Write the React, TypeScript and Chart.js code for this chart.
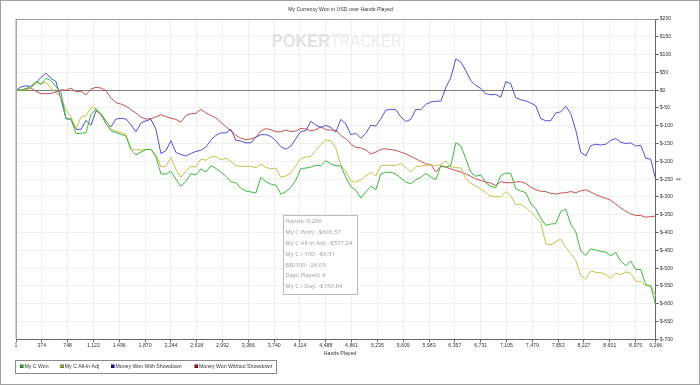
import React, { useEffect, useRef } from "react";
import { Chart, registerables } from "chart.js";
Chart.register(...registerables);

const hands = [
  1, 73, 146, 218, 291, 363, 435, 508, 580, 652,
  725, 797, 870, 942, 1014, 1087, 1159, 1232, 1304, 1376,
  1449, 1521, 1593, 1666, 1738, 1811, 1883, 1955, 2028, 2100,
  2172, 2245, 2317, 2390, 2462, 2534, 2607, 2679, 2752, 2824,
  2896, 2969, 3041, 3113, 3186, 3258, 3331, 3403, 3475, 3548,
  3620, 3693, 3765, 3837, 3910, 3982, 4054, 4127, 4199, 4272,
  4344, 4416, 4489, 4561, 4634, 4706, 4778, 4851, 4923, 4995,
  5068, 5140, 5213, 5285, 5357, 5430, 5502, 5575, 5647, 5719,
  5792, 5864, 5936, 6009, 6081, 6154, 6226, 6298, 6371, 6443,
  6515, 6588, 6660, 6733, 6805, 6877, 6950, 7022, 7095, 7167,
  7239, 7312, 7384, 7456, 7529, 7601, 7674, 7746, 7818, 7891,
  7963, 8036, 8108, 8180, 8253, 8325, 8397, 8470, 8542, 8615,
  8687, 8759, 8832, 8904, 8977, 9049, 9121, 9194, 9266,
];

const xTicks = [
  1, 374, 748, 1122, 1496, 1870, 2244, 2618, 2992, 3366, 3740, 4114, 4488,
  4861, 5235, 5609, 5983, 6357, 6731, 7105, 7479, 7853, 8227, 8601, 8975, 9266,
];

const seriesNames = [
  "My C Won",
  "My C All-In Adj",
  "Money Won With Showdown",
  "Money Won Without Showdown",
];

const myCWon = [
  0, -1, 5, 10, 25, 16, 33, 27, 10, -6,
  -81, -81, -122, -121, -120, -68, -53, -70, -94, -114,
  -119, -124, -129, -167, -182, -174, -167, -166, -188, -235,
  -236, -228, -250, -270, -256, -235, -238, -221, -230, -212,
  -220, -230, -242, -257, -260, -276, -283, -286, -289, -245,
  -257, -264, -267, -292, -285, -273, -253, -220, -219, -216,
  -211, -212, -198, -208, -212, -213, -245, -271, -281, -303,
  -286, -270, -280, -235, -231, -230, -236, -247, -258, -263,
  -252, -245, -234, -244, -252, -212, -216, -212, -148, -156,
  -192, -231, -242, -238, -260, -270, -274, -240, -233, -234,
  -277, -283, -288, -318, -333, -360, -380, -376, -375, -341,
  -334, -377, -398, -451, -464, -446, -449, -453, -455, -465,
  -456, -480, -493, -480, -504, -504, -546, -550, -603,
];

const myCAllInAdj = [
  0, 1, 1, 6, 21, 19, 22, 5, -7, -20,
  -56, -74, -109, -75, -72, -49, -52, -65, -85, -109,
  -115, -119, -125, -165, -168, -168, -167, -166, -181, -215,
  -214, -189, -222, -245, -227, -213, -216, -194, -197, -187,
  -187, -195, -191, -201, -212, -214, -214, -214, -218, -208,
  -217, -221, -219, -245, -241, -233, -212, -192, -188, -186,
  -169, -153, -140, -142, -163, -211, -228, -256, -259, -252,
  -241, -231, -241, -212, -211, -211, -212, -206, -217, -230,
  -215, -213, -211, -210, -213, -209, -199, -215, -218, -218,
  -248, -262, -269, -277, -288, -298, -299, -300, -285, -297,
  -321, -320, -330, -342, -357, -371, -432, -435, -426, -418,
  -442, -459, -478, -521, -531, -507, -512, -513, -517, -528,
  -514, -518, -511, -514, -537, -537, -550, -550, -577,
];

const wonWithShowdown = [
  0, 9, 12, 11, 20, 36, 48, 33, 24, -25,
  -79, -82, -110, -110, -85, -98, -58, -68, -88, -103,
  -81, -79, -81, -97, -117, -92, -86, -82, -110, -178,
  -170, -142, -175, -181, -185, -178, -172, -169, -160, -140,
  -127, -120, -120, -110, -141, -143, -148, -148, -132, -125,
  -125, -130, -142, -159, -166, -157, -136, -116, -114, -87,
  -98, -105, -99, -105, -118, -82, -95, -125, -121, -135,
  -121, -98, -101, -80, -56, -54, -55, -75, -88, -82,
  -54, -55, -40, -33, -31, -31, 7, 35, 88, 79,
  55, 27, 13, 5, -10, -13, -12, -20, 24, 18,
  -21, -27, -30, -36, -44, -80, -86, -86, -64, -61,
  -45, -66, -112, -174, -185, -156, -152, -154, -152, -141,
  -136, -146, -150, -148, -157, -155, -191, -194, -251,
];

const wonWithoutShowdown = [
  0, 1, 3, 6, -3, -10, -10, -9, -5, 1,
  0, 6, -5, -3, -13, 3, 8, 6, -1, -22,
  -35, -39, -45, -55, -64, -76, -81, -80, -75, -69,
  -74, -79, -82, -90, -71, -66, -65, -54, -64, -71,
  -78, -90, -103, -114, -127, -135, -139, -137, -132, -115,
  -108, -111, -117, -117, -112, -116, -115, -107, -109, -114,
  -111, -103, -111, -112, -113, -127, -137, -151, -161, -162,
  -168, -179, -174, -166, -165, -167, -169, -174, -179, -186,
  -193, -200, -207, -209, -230, -214, -216, -221, -226, -230,
  -235, -242, -249, -254, -258, -261, -268, -257, -260, -260,
  -258, -257, -262, -272, -280, -284, -285, -290, -292, -289,
  -288, -285, -288, -283, -280, -286, -294, -299, -304, -309,
  -320, -331, -340, -348, -352, -352, -357, -355, -354,
];

const tooltipLines = [
  "Hands: 9,266",
  "My C Won: -$603.37",
  "My C All-In Adj: -$577.24",
  "My C / 100: -$6.51",
  "BB/100: -26.05",
  "Days Played: 4",
  "My C / Day: -$150.84",
];

const titleText = "My Currency Won in USD over Hands Played";
const xTitleText = "Hands Played";

const FONT = "'Liberation Sans', Arial, sans-serif";

export default function App() {
  const ref = useRef<HTMLCanvasElement>(null);

  useEffect(() => {
    if (!ref.current) return;
    const lineColors = ["#3cb83c", "#c8bf48", "#5050d2", "#c95050"];
    const legendFill = ["#2fc42f", "#b3b324", "#1c1ca8", "#b51c1c"];
    const legendEdge = ["#137013", "#5c5c10", "#050550", "#5a0505"];
    const values = [myCWon, myCAllInAdj, wonWithShowdown, wonWithoutShowdown];

    const decor = {
      id: "decor",
      beforeDatasetsDraw(chart: any) {
        const ctx = chart.ctx;
        ctx.save();
        ctx.textBaseline = "alphabetic";
        ctx.textAlign = "left";
        ctx.fillStyle = "#e2e2e2";
        ctx.font = `bold 19px ${FONT}`;
        ctx.fillText("POKER", 271.7, 47.3, 58.3);
        ctx.fillStyle = "#ececec";
        ctx.font = `19px ${FONT}`;
        ctx.fillText("TRACKER", 330.5, 47.3, 71.2);
        ctx.restore();
      },
      afterDraw(chart: any) {
        const ctx = chart.ctx;
        const a = chart.chartArea;
        ctx.save();
        // outer frame
        ctx.strokeStyle = "#a0a0a0";
        ctx.lineWidth = 1;
        ctx.strokeRect(0.5, 0.5, 699, 384);
        // plot top / left borders
        ctx.strokeStyle = "#9a9a9a";
        ctx.beginPath();
        ctx.moveTo(a.left, a.top + 0.5);
        ctx.lineTo(a.right, a.top + 0.5);
        ctx.stroke();
        ctx.strokeStyle = "#a8a8a8";
        ctx.lineWidth = 1.5;
        ctx.beginPath();
        ctx.moveTo(a.left + 0.25, a.top);
        ctx.lineTo(a.left + 0.25, a.bottom);
        ctx.stroke();

        // title
        ctx.fillStyle = "#333";
        ctx.font = `5.2px ${FONT}`;
        ctx.textAlign = "center";
        ctx.textBaseline = "middle";
        ctx.fillText(titleText, 340.5, 10);
        // x axis title
        ctx.fillText(xTitleText, 340, 353.5);

        // marker at right axis
        ctx.font = `6px 'DejaVu Sans', sans-serif`;
        ctx.fillStyle = "#555";
        ctx.fillText("\u2194", 678.5, 179.5);

        // legend
        ctx.strokeStyle = "#8a8a8a";
        ctx.lineWidth = 1;
        ctx.strokeRect(15.5, 360.5, 261, 13);
        const sq = [20, 60.3, 111, 194.5];
        ctx.font = `5.2px ${FONT}`;
        ctx.textAlign = "left";
        chart.data.datasets.forEach((ds: any, k: number) => {
          ctx.fillStyle = legendEdge[k];
          ctx.fillRect(sq[k], 364.5, 3.5, 3.5);
          ctx.fillStyle = legendFill[k];
          ctx.fillRect(sq[k] + 0.75, 365.25, 2, 2);
          ctx.fillStyle = "#333";
          ctx.fillText(ds.label, sq[k] + 4.5, 366.5);
        });

        // info box
        ctx.fillStyle = "#ffffff";
        ctx.fillRect(283.5, 215.5, 74, 79);
        ctx.strokeStyle = "#bcbcbc";
        ctx.strokeRect(283.5, 215.5, 74, 79);
        ctx.fillStyle = "#9c9c9c";
        ctx.font = `6px 'Open Sans', 'Noto Sans', sans-serif`;
        tooltipLines.forEach((t, i) => {
          ctx.fillText(t, 285.3, 221.2 + i * 10.9);
        });
        ctx.restore();
      },
    };

    const chart = new Chart(ref.current, {
      type: "line",
      data: {
        datasets: values.map((v, k) => ({
          label: seriesNames[k],
          data: hands.map((h, i) => ({ x: h, y: v[i] })),
          borderColor: lineColors[k],
          backgroundColor: lineColors[k],
          borderWidth: 1,
          pointRadius: 0,
          fill: false,
          tension: 0,
        })),
      },
      options: {
        animation: false,
        responsive: true,
        maintainAspectRatio: false,
        events: [],
        layout: { padding: { left: 16, top: 19, right: 0, bottom: 0 } },
        plugins: {
          legend: { display: false },
          tooltip: { enabled: false },
          title: { display: false },
        },
        scales: {
          x: {
            type: "linear",
            position: "bottom",
            min: 1,
            max: 9266,
            afterBuildTicks: (s: any) => {
              s.ticks = xTicks.map((v) => ({ value: v }));
            },
            afterFit: (s: any) => {
              s.height = 45.7;
            },
            ticks: {
              autoSkip: false,
              maxRotation: 0,
              padding: 0,
              color: "#333",
              font: { family: FONT, size: 5.2 },
              callback: (v: any) => Number(v).toLocaleString("en-US"),
            },
            grid: { color: "#efefef", tickColor: "#666", tickLength: 3, lineWidth: 1 },
            border: { color: "#666", width: 1 },
          },
          y: {
            type: "linear",
            position: "right",
            min: -700,
            max: 200,
            afterFit: (s: any) => {
              s.width = 44.3;
            },
            ticks: {
              stepSize: 50,
              padding: 1,
              color: "#333",
              font: { family: FONT, size: 5.2 },
              callback: (v: any) => "$" + v,
            },
            grid: {
              color: (c: any) => (c.tick && c.tick.value === 0 ? "#808080" : "#efefef"),
              tickColor: "#666",
              tickLength: 3,
              lineWidth: 1,
            },
            border: { color: "#666", width: 1 },
          },
        },
      } as any,
      plugins: [decor],
    });
    return () => chart.destroy();
  }, []);

  return (
    <div style={{ position: "absolute", left: 0, top: 0, width: 700, height: 385 }}>
      <canvas ref={ref} />
    </div>
  );
}
